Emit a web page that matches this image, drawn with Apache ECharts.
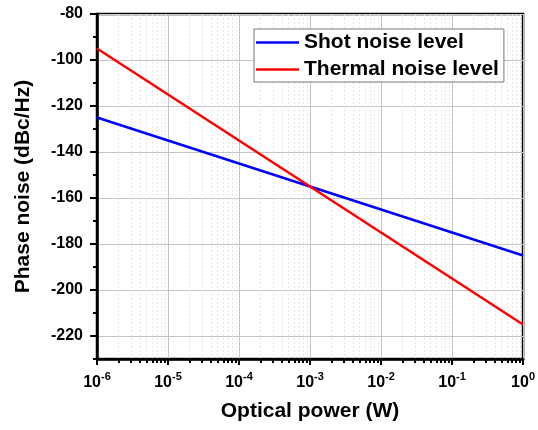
<!DOCTYPE html>
<html><head><meta charset="utf-8">
<script src="https://cdn.jsdelivr.net/npm/echarts@6/dist/echarts.min.js"></script>
<style>html,body{margin:0;padding:0;background:#fff}#c{width:538px;height:430px}</style>
</head><body><div id="c"></div>
<script>
const powers = [1e-6, 1e-5, 1e-4, 1e-3, 1e-2, 1e-1, 1];
const shotNoise = [-125, -135, -145, -155, -165, -175, -185];
const thermalNoise = [-95, -115, -135, -155, -175, -195, -215];
const yTickLabels = ['-230','-220','-210','-200','-190','-180','-170','-160','-150','-140','-130','-120','-110','-100','-90','-80'];
const seriesNames = ['Shot noise level', 'Thermal noise level'];
const FONT = '"Liberation Sans", Arial, sans-serif';

const chart = echarts.init(document.getElementById('c'));
const showMajor = (i, v) => Number(v) % 20 === 0;
chart.setOption({
  animation: false,
  grid: { left: 97, right: 13, top: 14, bottom: 71, show: true, borderColor: '#000', borderWidth: 2.5, backgroundColor: 'transparent' },
  legend: {
    left: 254, top: 29, orient: 'vertical', itemWidth: 43, itemHeight: 14, itemGap: 6,
    backgroundColor: '#fff', borderColor: '#777', borderWidth: 1, padding: [3, 5, 2, 2],
    textStyle: { fontFamily: FONT, fontWeight: 'bold', fontSize: 21, color: '#000' },
    icon: 'path://M0,6 L43,6 L43,8.5 L0,8.5 Z'
  },
  xAxis: {
    type: 'log', logBase: 10, min: 1e-6, max: 1,
    name: 'Optical power (W)', nameLocation: 'middle', nameGap: 42,
    nameTextStyle: { fontFamily: FONT, fontWeight: 'bold', fontSize: 21, color: '#000' },
    axisLine: { lineStyle: { color: '#000', width: 2.5 } },
    axisTick: { show: true, length: 6, lineStyle: { color: '#000', width: 2 } },
    minorTick: { show: true, splitNumber: 9, length: 4, lineStyle: { color: '#000', width: 2 } },
    splitLine: { show: true, lineStyle: { color: '#c4c4c4', width: 1 } },
    minorSplitLine: { show: true, lineStyle: { color: '#e6e6e6', width: 1, type: [2, 2] } },
    axisLabel: {
      margin: 12,
      formatter: v => '{b|10}{s|' + Math.round(Math.log10(v)) + '}',
      rich: {
        b: { fontFamily: FONT, fontWeight: 'bold', fontSize: 16, color: '#000', lineHeight: 20, verticalAlign: 'bottom' },
        s: { fontFamily: FONT, fontWeight: 'bold', fontSize: 11, color: '#000', lineHeight: 20, verticalAlign: 'top' }
      }
    }
  },
  yAxis: [{
    type: 'value', min: -230, max: -80, interval: 10,
    name: 'Phase noise (dBc/Hz)', nameLocation: 'middle', nameGap: 63,
    nameTextStyle: { fontFamily: FONT, fontWeight: 'bold', fontSize: 21, color: '#000' },
    axisLine: { show: true, lineStyle: { color: '#000', width: 2.5 } },
    axisTick: { show: true, length: 4, lineStyle: { color: '#000', width: 2 } },
    axisLabel: { show: false },
    splitLine: { show: true, lineStyle: { color: ['rgba(0,0,0,0)', '#c4c4c4'], width: 1 } }
  }, {
    type: 'category', data: yTickLabels, boundaryGap: false, position: 'left',
    axisLine: { show: false },
    axisTick: { show: true, length: 7, interval: showMajor, lineStyle: { color: '#000', width: 2 } },
    axisLabel: { interval: showMajor, margin: 14, fontFamily: FONT, fontWeight: 'bold', fontSize: 16, color: '#000' },
    splitLine: { show: false }
  }],
  series: [{
    name: seriesNames[0], type: 'line', yAxisIndex: 0, showSymbol: false,
    data: powers.map((p, i) => [p, shotNoise[i]]),
    lineStyle: { color: '#0000ff', width: 2.5 }, itemStyle: { color: '#0000ff' }
  }, {
    name: seriesNames[1], type: 'line', yAxisIndex: 0, showSymbol: false,
    data: powers.map((p, i) => [p, thermalNoise[i]]),
    lineStyle: { color: '#ff0000', width: 2.5 }, itemStyle: { color: '#ff0000' }
  }]
});
</script></body></html>
